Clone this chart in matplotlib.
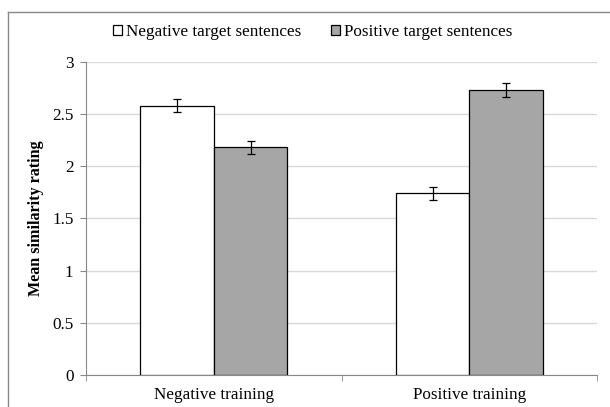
import matplotlib.pyplot as plt
import numpy as np
from matplotlib.lines import Line2D

plt.rcParams['font.family'] = ['Liberation Serif', 'DejaVu Serif']

groups = ['Negative training', 'Positive training']
neg_target = [2.58, 1.74]
pos_target = [2.18, 2.73]
neg_err = [0.06, 0.06]
pos_err = [0.06, 0.065]

fig = plt.figure(figsize=(6.1, 4.07), dpi=100)
ax = fig.add_axes([0.141, 0.079, 0.838, 0.769])

x = np.arange(len(groups))
w = 0.2875
ax.bar(x - w/2, neg_target, w, color='white', edgecolor='black', linewidth=0.9,
       yerr=neg_err, capsize=3, error_kw=dict(elinewidth=0.9, capthick=0.9),
       label='Negative target sentences', zorder=3)
ax.bar(x + w/2, pos_target, w, color='#a6a6a6', edgecolor='black', linewidth=0.9,
       yerr=pos_err, capsize=3, error_kw=dict(elinewidth=0.9, capthick=0.9),
       label='Positive target sentences', zorder=3)

ax.set_xlim(-0.5, 1.5)
ax.set_ylim(0, 3)
ax.set_yticks(np.arange(0, 3.01, 0.5))
ax.set_yticklabels(['0', '0.5', '1', '1.5', '2', '2.5', '3'])
ax.set_xticks(x)
ax.set_xticklabels(groups)
ax.set_xticks([-0.5, 0.5, 1.5], minor=True)
ax.tick_params(axis='x', which='major', length=0, labelsize=12.3, pad=9)
ax.tick_params(axis='x', which='minor', length=4, color='#888888')
ax.tick_params(axis='y', length=4, color='#888888', labelsize=12.3, pad=5)
ax.yaxis.grid(True, color='#d9d9d9', linewidth=1, zorder=0)
ax.set_axisbelow(True)
for s in ['top', 'right']:
    ax.spines[s].set_visible(False)
for s in ['left', 'bottom']:
    ax.spines[s].set_color('#888888')
ax.set_ylabel('Mean similarity rating', fontsize=11.6, fontweight='bold', labelpad=6)

fig.legend(*ax.get_legend_handles_labels(), loc='center', bbox_to_anchor=(0.513, 0.922),
           ncol=2, frameon=False, fontsize=12.3, handlelength=0.5, handleheight=0.5,
           handletextpad=0.25, columnspacing=1.75)

# chart border
fig.add_artist(Line2D([0.013, 0.013], [0, 0.9705], color='#888888', linewidth=1))
fig.add_artist(Line2D([0.013, 1.0], [0.9705, 0.9705], color='#888888', linewidth=1))

fig.savefig('out.png', dpi=100)
